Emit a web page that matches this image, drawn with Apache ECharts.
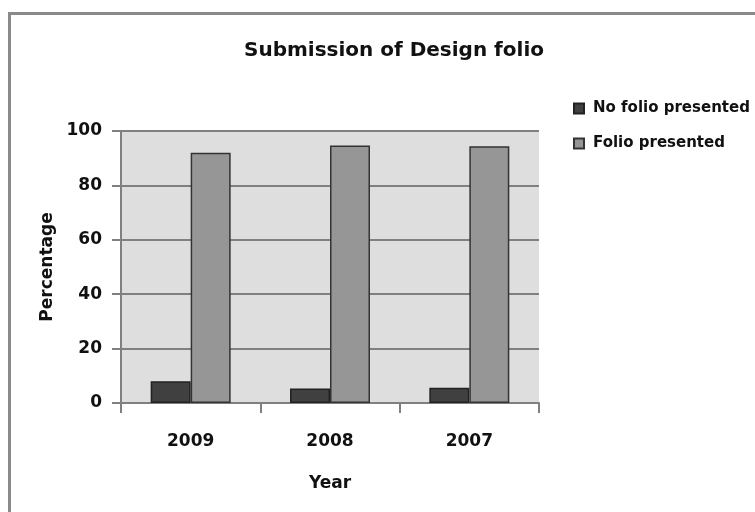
<!DOCTYPE html>
<html>
<head>
<meta charset="utf-8">
<script src="https://cdn.jsdelivr.net/npm/echarts@6/dist/echarts.min.js"></script>
<style>
  html, body { margin: 0; padding: 0; background: #fff; }
  #chart { width: 755px; height: 512px; }
</style>
</head>
<body>
<div id="chart"></div>
<script>
const years = ['2009', '2008', '2007'];
const noFolio = [8, 5.3, 5.6];
const folio = [92, 94.7, 94.4];
const yTicks = { min: 0, max: 100, interval: 20 };

const font = 'DejaVu Sans';
const chart = echarts.init(document.getElementById('chart'));

chart.setOption({
  animation: false,
  backgroundColor: '#fff',
  graphic: [{
    type: 'rect',
    shape: { x: 9.5, y: 13.5, width: 800, height: 600 },
    style: { fill: 'none', stroke: '#8a8a8a', lineWidth: 3 },
    silent: true
  }],
  title: {
    text: 'Submission of Design folio',
    left: 389,
    textAlign: 'center',
    top: 36,
    textStyle: { fontFamily: font, fontSize: 20, fontWeight: 'bold', color: '#111' }
  },
  legend: {
    orient: 'vertical',
    left: 568,
    top: 96,
    itemWidth: 10,
    itemHeight: 10,
    itemGap: 20,
    icon: 'rect',
    textStyle: { fontFamily: font, fontSize: 15, fontWeight: 'bold', color: '#111', padding: [0, 0, 0, 4] },
    data: ['No folio presented', 'Folio presented']
  },
  grid: {
    left: 121,
    top: 131,
    right: 216,
    bottom: 109,
    show: true,
    backgroundColor: '#dedede',
    borderWidth: 0
  },
  xAxis: {
    type: 'category',
    data: years,
    name: 'Year',
    nameLocation: 'middle',
    nameGap: 72,
    nameTextStyle: { fontFamily: font, fontSize: 17, fontWeight: 'bold', color: '#111' },
    axisLine: { lineStyle: { color: '#808080', width: 2 } },
    axisTick: { show: true, length: 10, alignWithLabel: false, lineStyle: { color: '#808080', width: 2 } },
    axisLabel: { margin: 30, fontFamily: font, fontSize: 17, fontWeight: 'bold', color: '#111' },
    splitLine: { show: false }
  },
  yAxis: {
    type: 'value',
    min: yTicks.min,
    max: yTicks.max,
    interval: yTicks.interval,
    name: 'Percentage',
    nameLocation: 'middle',
    nameRotate: 90,
    nameGap: 62,
    nameTextStyle: { fontFamily: font, fontSize: 17, fontWeight: 'bold', color: '#111' },
    axisLine: { show: true, lineStyle: { color: '#808080', width: 2 } },
    axisTick: { show: true, length: 9, lineStyle: { color: '#808080', width: 2 } },
    axisLabel: { margin: 19, fontFamily: font, fontSize: 17, fontWeight: 'bold', color: '#111' },
    splitLine: { show: true, lineStyle: { color: '#808080', width: 2 } }
  },
  series: [
    {
      name: 'No folio presented',
      type: 'bar',
      data: noFolio,
      barWidth: 40,
      barGap: '0%',
      itemStyle: { color: '#404040', borderColor: '#222', borderWidth: 1.5 }
    },
    {
      name: 'Folio presented',
      type: 'bar',
      data: folio,
      barWidth: 40,
      barGap: '0%',
      itemStyle: { color: '#969696', borderColor: '#333', borderWidth: 1.5 }
    }
  ]
});
</script>
</body>
</html>
